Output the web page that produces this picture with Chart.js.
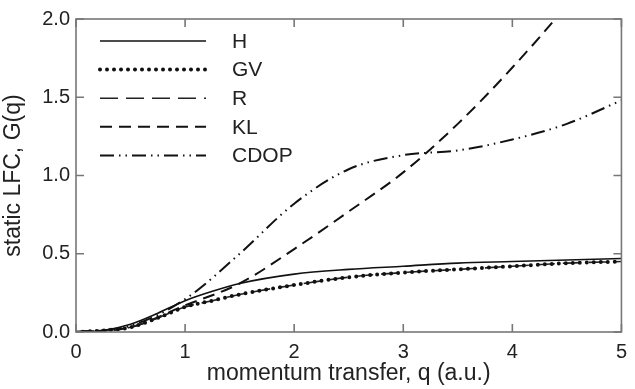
<!DOCTYPE html>
<html>
<head>
<meta charset="utf-8">
<script src="https://cdn.jsdelivr.net/npm/chart.js@4/dist/chart.umd.min.js"></script>
<style>
  html, body { margin: 0; padding: 0; background: #fff; }
  #wrap { width: 635px; height: 389px; }
</style>
</head>
<body>
<div id="wrap"><canvas id="myChart"></canvas></div>
<script>
const qH = [0, 0.25, 0.5, 0.75, 1, 1.25, 1.5, 2, 2.5, 3, 3.5, 4, 4.5, 5];
const valH = [0, 0.01, 0.05, 0.12, 0.2, 0.26, 0.31, 0.37, 0.4, 0.42, 0.44, 0.45, 0.46, 0.47];

const qGV = [0, 0.25, 0.5, 0.75, 1, 1.25, 1.5, 2, 2.5, 3, 3.5, 4, 4.5, 5];
const valGV = [0, 0.01, 0.03, 0.09, 0.16, 0.2, 0.24, 0.3, 0.35, 0.38, 0.4, 0.42, 0.44, 0.45];
const valR = [0, 0.01, 0.03, 0.09, 0.16, 0.2, 0.24, 0.3, 0.35, 0.38, 0.4, 0.42, 0.44, 0.45];

const qKL = [0, 0.5, 1, 1.5, 2, 2.5, 3, 3.5, 4, 4.5, 5];
const valKL = [0, 0.03, 0.17, 0.31, 0.53, 0.77, 1.02, 1.33, 1.69, 2.09, 2.55];

const qCDOP = [0, 0.5, 1, 1.5, 2, 2.5, 3, 3.5, 4, 4.5, 5];
const valCDOP = [0, 0.04, 0.21, 0.5, 0.82, 1.04, 1.13, 1.16, 1.23, 1.33, 1.48];

const seriesNames = ["H", "GV", "R", "KL", "CDOP"];
const xTicks = [0, 1, 2, 3, 4, 5];
const yTicks = [0, 0.5, 1, 1.5, 2];

const pts = (xs, ys) => xs.map((x, i) => ({ x: x, y: ys[i] }));
const FONT = "'Liberation Sans', Arial, sans-serif";

const ctx = document.querySelector("#myChart").getContext("2d");

const data = {
  datasets: [
    { label: seriesNames[0], data: pts(qH, valH), borderColor: "#111", borderWidth: 1.6 },
    { label: seriesNames[1], data: pts(qGV, valGV), borderColor: "#111", borderWidth: 4, borderDash: [0, 7], borderCapStyle: "round" },
    { label: seriesNames[2], data: pts(qGV, valR), borderColor: "#222", borderWidth: 1.6, borderDash: [18, 8] },
    { label: seriesNames[3], data: pts(qKL, valKL), borderColor: "#111", borderWidth: 2, borderDash: [12, 7] },
    { label: seriesNames[4], data: pts(qCDOP, valCDOP), borderColor: "#111", borderWidth: 2, borderDash: [14, 5, 1.5, 5, 1.5, 5] },
  ],
};

// frame, inward ticks on all four sides, legend inside the plot
const framePlugin = {
  id: "frame",
  afterDatasetsDraw(chart) {
    const c = chart.ctx;
    const a = chart.chartArea;
    const xs = chart.scales.x;
    const ys = chart.scales.y;
    c.save();
    c.strokeStyle = "#777";
    c.lineWidth = 1.6;
    c.strokeRect(a.left, a.top, a.right - a.left, a.bottom - a.top);
    c.beginPath();
    xTicks.forEach((v) => {
      const px = xs.getPixelForValue(v);
      c.moveTo(px, a.bottom); c.lineTo(px, a.bottom - 8);
      c.moveTo(px, a.top); c.lineTo(px, a.top + 8);
    });
    yTicks.forEach((v) => {
      const py = ys.getPixelForValue(v);
      c.moveTo(a.left, py); c.lineTo(a.left + 8, py);
      c.moveTo(a.right, py); c.lineTo(a.right - 8, py);
    });
    c.stroke();

    // legend
    c.font = "21px " + FONT;
    c.textBaseline = "middle";
    chart.data.datasets.forEach((ds, i) => {
      const y = 41 + i * 28.6;
      c.strokeStyle = ds.borderColor;
      c.lineWidth = ds.borderWidth;
      c.lineCap = ds.borderCapStyle || "butt";
      c.setLineDash(ds.borderDash || []);
      c.beginPath();
      c.moveTo(100, y);
      c.lineTo(206, y);
      c.stroke();
      c.setLineDash([]);
      c.fillStyle = "#222";
      c.fillText(ds.label, 232, y + 1);
    });
    c.restore();
  },
};

const config = {
  type: "line",
  data: data,
  options: {
    responsive: false,
    animation: false,
    devicePixelRatio: 1,
    layout: { padding: { left: 0, right: 7, top: 19, bottom: 0 } },
    elements: {
      point: { radius: 0 },
      line: { cubicInterpolationMode: "monotone" },
    },
    plugins: { legend: { display: false }, tooltip: { enabled: false } },
    scales: {
      x: {
        type: "linear",
        min: 0,
        max: 5,
        grid: { display: false, drawTicks: false },
        border: { display: false },
        afterBuildTicks: (s) => { s.ticks = xTicks.map((v) => ({ value: v })); },
        afterFit: (s) => { s.height = 57; },
        ticks: { color: "#222", font: { family: FONT, size: 20 }, padding: 8, callback: (v) => String(v) },
        title: { display: true, text: "momentum transfer, q (a.u.)", color: "#222", font: { family: FONT, size: 23 }, padding: { top: 0, bottom: 2 } },
      },
      y: {
        type: "linear",
        min: 0,
        max: 2,
        grid: { display: false, drawTicks: false },
        border: { display: false },
        afterBuildTicks: (s) => { s.ticks = yTicks.map((v) => ({ value: v })); },
        afterFit: (s) => { s.width = 76; },
        ticks: { color: "#222", font: { family: FONT, size: 20 }, padding: 6, callback: (v) => v.toFixed(1) },
        title: { display: true, text: "static LFC, G(q)", color: "#222", font: { family: FONT, size: 23 }, padding: { top: 0, bottom: 0 } },
      },
    },
  },
  plugins: [framePlugin],
};

const canvas = document.querySelector("#myChart");
canvas.width = 635;
canvas.height = 389;
const myChart = new Chart(ctx, config);
</script>
</body>
</html>
